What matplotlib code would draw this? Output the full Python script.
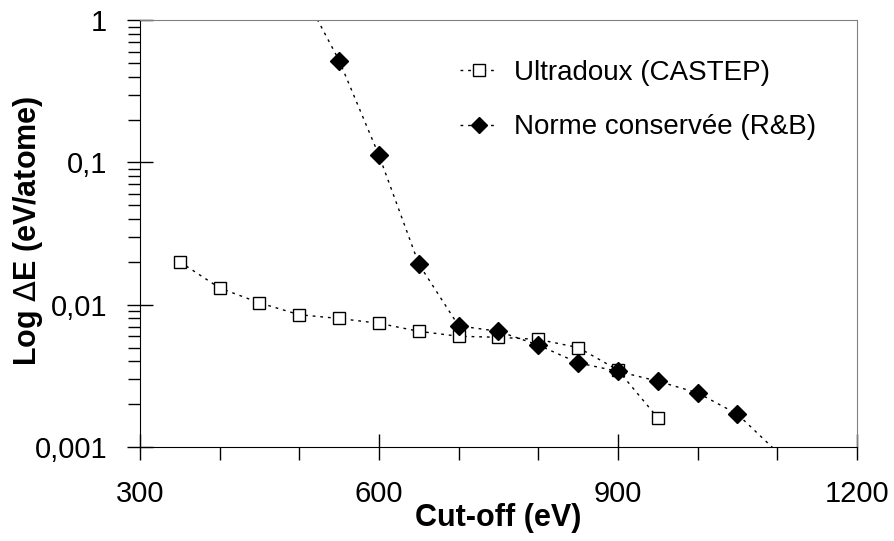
import numpy as np
import matplotlib.pyplot as plt
from matplotlib.ticker import FixedLocator, FuncFormatter, NullFormatter

plt.rcParams['font.family'] = ['Liberation Sans', 'DejaVu Sans']

# Ultradoux (CASTEP)
uspp_x = [350, 400, 450, 500, 550, 600, 650, 700, 750, 800, 850, 900, 950]
uspp_y = [0.020, 0.0131, 0.0103, 0.0085, 0.0080, 0.0074, 0.0065, 0.0060,
          0.0059, 0.0057, 0.0050, 0.00347, 0.0016]

# Norme conservée (R&B) - first and last points lie outside the axes
nc_x = [500, 550, 600, 650, 700, 750, 800, 850, 900, 950, 1000, 1050, 1100]
nc_y = [1.75, 0.52, 0.112, 0.0193, 0.0071, 0.0065, 0.0052, 0.0039,
        0.0034, 0.0029, 0.0024, 0.0017, 0.00092]

tick_labels = {1: '1', 0.1: '0,1', 0.01: '0,01', 0.001: '0,001'}

fig = plt.figure(figsize=(8.94, 5.41), dpi=100)
ax = fig.add_axes([0.1566, 0.1738, 0.802, 0.789])

dots = (0, (2, 3.5))
l1, = ax.plot(uspp_x, uspp_y, color='black', lw=1, ls=dots, marker='s', ms=9,
              mfc='white', mec='black', mew=1)
ax.plot(nc_x, nc_y, color='black', lw=1, ls=dots)
inside = [i for i, v in enumerate(nc_y) if 0.001 <= v <= 1]
ax.plot([nc_x[i] for i in inside], [nc_y[i] for i in inside], ls='none',
        marker='D', ms=9, color='black')
# legend proxy for the second series with its line
h2, = ax.plot([], [], color='black', lw=1, ls=dots, marker='D', ms=8)

ax.set_xlim(300, 1200)
ax.set_yscale('log')
ax.set_ylim(0.001, 1)

ax.xaxis.set_major_locator(FixedLocator([300, 600, 900, 1200]))
ax.xaxis.set_minor_locator(FixedLocator([400, 500, 700, 800, 1000, 1100]))
ax.yaxis.set_major_locator(FixedLocator([0.001, 0.01, 0.1, 1]))
ax.yaxis.set_major_formatter(FuncFormatter(lambda v, p: tick_labels.get(round(v, 3), '')))
ax.yaxis.set_minor_formatter(NullFormatter())

ax.tick_params(axis='both', which='major', direction='inout', length=19,
               width=1, labelsize=21, pad=14)
ax.tick_params(axis='both', which='minor', direction='out', length=9, width=1)

for s in ('top', 'right'):
    ax.spines[s].set_color('#808080')
for s in ('left', 'bottom'):
    ax.spines[s].set_color('black')

ax.set_xlabel('Cut-off (eV)', fontsize=22, fontweight='bold', va='center')
ax.xaxis.set_label_coords(0.5, -0.166)
ax.set_ylabel('Log $\\Delta$E (eV/atome)', fontsize=22, fontweight='bold', va='center')
ax.yaxis.set_label_coords(-0.156, 0.506)

ax.legend([l1, h2], ['Ultradoux (CASTEP)', 'Norme conservée (R&B)'],
          loc='upper left', bbox_to_anchor=(460 / 894, 1 - 60 / 541),
          bbox_transform=fig.transFigure, frameon=False, borderpad=0,
          borderaxespad=0, fontsize=20, handlelength=1.35,
          handletextpad=0.6, labelspacing=1.02)

fig.savefig('out.png', dpi=100)
